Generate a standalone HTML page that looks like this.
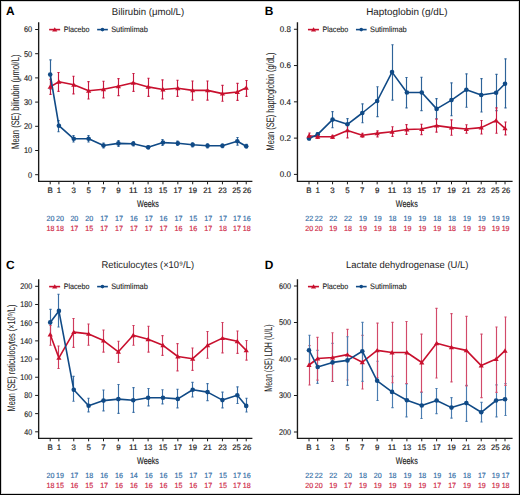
<!DOCTYPE html>
<html><head><meta charset="utf-8"><style>
html,body{margin:0;padding:0;background:#fff;}
body{width:520px;height:495px;overflow:hidden;position:relative;}
svg{position:absolute;left:0;top:0;}
text{font-family:"Liberation Sans",sans-serif;text-rendering:geometricPrecision;}
</style></head><body>
<svg width="520" height="495" viewBox="0 0 520 495">
<rect x="1.5" y="1.5" width="517" height="492" fill="#fff" stroke="#d6d6d6" stroke-width="1"/>
<rect x="0.5" y="0.5" width="519" height="494" fill="none" stroke="#000" stroke-width="1"/>
<text x="6.00" y="14.85" font-size="12" text-anchor="start" fill="#000" font-weight="bold" textLength="8.60" lengthAdjust="spacingAndGlyphs">A</text>
<text x="148.00" y="14.60" font-size="9.8" text-anchor="middle" fill="#222222" font-weight="normal" textLength="72.30" lengthAdjust="spacingAndGlyphs">Bilirubin (μmol/L)</text>
<path d="M38.65 22.20V181.30H252.40" fill="none" stroke="#1a1a1a" stroke-width="1.35"/>
<path d="M35.15 174.70H38.65" stroke="#1a1a1a" stroke-width="1"/>
<text x="32.15" y="177.60" font-size="8.3" text-anchor="end" fill="#222222" font-weight="normal" textLength="4.12" lengthAdjust="spacingAndGlyphs" stroke="#222222" stroke-width="0.15">0</text>
<path d="M35.15 150.50H38.65" stroke="#1a1a1a" stroke-width="1"/>
<text x="32.15" y="153.40" font-size="8.3" text-anchor="end" fill="#222222" font-weight="normal" textLength="8.24" lengthAdjust="spacingAndGlyphs" stroke="#222222" stroke-width="0.15">10</text>
<path d="M35.15 126.30H38.65" stroke="#1a1a1a" stroke-width="1"/>
<text x="32.15" y="129.20" font-size="8.3" text-anchor="end" fill="#222222" font-weight="normal" textLength="8.24" lengthAdjust="spacingAndGlyphs" stroke="#222222" stroke-width="0.15">20</text>
<path d="M35.15 102.10H38.65" stroke="#1a1a1a" stroke-width="1"/>
<text x="32.15" y="105.00" font-size="8.3" text-anchor="end" fill="#222222" font-weight="normal" textLength="8.24" lengthAdjust="spacingAndGlyphs" stroke="#222222" stroke-width="0.15">30</text>
<path d="M35.15 77.90H38.65" stroke="#1a1a1a" stroke-width="1"/>
<text x="32.15" y="80.80" font-size="8.3" text-anchor="end" fill="#222222" font-weight="normal" textLength="8.24" lengthAdjust="spacingAndGlyphs" stroke="#222222" stroke-width="0.15">40</text>
<path d="M35.15 53.70H38.65" stroke="#1a1a1a" stroke-width="1"/>
<text x="32.15" y="56.60" font-size="8.3" text-anchor="end" fill="#222222" font-weight="normal" textLength="8.24" lengthAdjust="spacingAndGlyphs" stroke="#222222" stroke-width="0.15">50</text>
<path d="M35.15 29.50H38.65" stroke="#1a1a1a" stroke-width="1"/>
<text x="32.15" y="32.40" font-size="8.3" text-anchor="end" fill="#222222" font-weight="normal" textLength="8.24" lengthAdjust="spacingAndGlyphs" stroke="#222222" stroke-width="0.15">60</text>
<path d="M50.20 181.30V184.30" stroke="#1a1a1a" stroke-width="1"/>
<text x="50.20" y="193.40" font-size="7.9" text-anchor="middle" fill="#222222" font-weight="normal" stroke="#222222" stroke-width="0.18">B</text>
<path d="M58.90 181.30V184.30" stroke="#1a1a1a" stroke-width="1"/>
<text x="58.90" y="193.40" font-size="7.9" text-anchor="middle" fill="#222222" font-weight="normal" stroke="#222222" stroke-width="0.18">1</text>
<path d="M73.77 181.30V184.30" stroke="#1a1a1a" stroke-width="1"/>
<text x="73.77" y="193.40" font-size="7.9" text-anchor="middle" fill="#222222" font-weight="normal" stroke="#222222" stroke-width="0.18">3</text>
<path d="M88.63 181.30V184.30" stroke="#1a1a1a" stroke-width="1"/>
<text x="88.63" y="193.40" font-size="7.9" text-anchor="middle" fill="#222222" font-weight="normal" stroke="#222222" stroke-width="0.18">5</text>
<path d="M103.50 181.30V184.30" stroke="#1a1a1a" stroke-width="1"/>
<text x="103.50" y="193.40" font-size="7.9" text-anchor="middle" fill="#222222" font-weight="normal" stroke="#222222" stroke-width="0.18">7</text>
<path d="M118.36 181.30V184.30" stroke="#1a1a1a" stroke-width="1"/>
<text x="118.36" y="193.40" font-size="7.9" text-anchor="middle" fill="#222222" font-weight="normal" stroke="#222222" stroke-width="0.18">9</text>
<path d="M133.23 181.30V184.30" stroke="#1a1a1a" stroke-width="1"/>
<text x="133.23" y="193.40" font-size="7.9" text-anchor="middle" fill="#222222" font-weight="normal" textLength="8.50" lengthAdjust="spacingAndGlyphs" stroke="#222222" stroke-width="0.18">11</text>
<path d="M148.10 181.30V184.30" stroke="#1a1a1a" stroke-width="1"/>
<text x="148.10" y="193.40" font-size="7.9" text-anchor="middle" fill="#222222" font-weight="normal" textLength="8.50" lengthAdjust="spacingAndGlyphs" stroke="#222222" stroke-width="0.18">13</text>
<path d="M162.96 181.30V184.30" stroke="#1a1a1a" stroke-width="1"/>
<text x="162.96" y="193.40" font-size="7.9" text-anchor="middle" fill="#222222" font-weight="normal" textLength="8.50" lengthAdjust="spacingAndGlyphs" stroke="#222222" stroke-width="0.18">15</text>
<path d="M177.83 181.30V184.30" stroke="#1a1a1a" stroke-width="1"/>
<text x="177.83" y="193.40" font-size="7.9" text-anchor="middle" fill="#222222" font-weight="normal" textLength="8.50" lengthAdjust="spacingAndGlyphs" stroke="#222222" stroke-width="0.18">17</text>
<path d="M192.69 181.30V184.30" stroke="#1a1a1a" stroke-width="1"/>
<text x="192.69" y="193.40" font-size="7.9" text-anchor="middle" fill="#222222" font-weight="normal" textLength="8.50" lengthAdjust="spacingAndGlyphs" stroke="#222222" stroke-width="0.18">19</text>
<path d="M207.56 181.30V184.30" stroke="#1a1a1a" stroke-width="1"/>
<text x="207.56" y="193.40" font-size="7.9" text-anchor="middle" fill="#222222" font-weight="normal" textLength="8.50" lengthAdjust="spacingAndGlyphs" stroke="#222222" stroke-width="0.18">21</text>
<path d="M222.43 181.30V184.30" stroke="#1a1a1a" stroke-width="1"/>
<text x="222.43" y="193.40" font-size="7.9" text-anchor="middle" fill="#222222" font-weight="normal" textLength="8.50" lengthAdjust="spacingAndGlyphs" stroke="#222222" stroke-width="0.18">23</text>
<path d="M237.29 181.30V184.30" stroke="#1a1a1a" stroke-width="1"/>
<text x="236.49" y="193.40" font-size="7.9" text-anchor="middle" fill="#222222" font-weight="normal" textLength="8.50" lengthAdjust="spacingAndGlyphs" stroke="#222222" stroke-width="0.18">25</text>
<path d="M246.22 181.30V184.30" stroke="#1a1a1a" stroke-width="1"/>
<text x="247.12" y="193.40" font-size="7.9" text-anchor="middle" fill="#222222" font-weight="normal" textLength="8.50" lengthAdjust="spacingAndGlyphs" stroke="#222222" stroke-width="0.18">26</text>
<text x="148.00" y="206.90" font-size="9.6" text-anchor="middle" fill="#222222" font-weight="normal" textLength="21.90" lengthAdjust="spacingAndGlyphs" stroke="#222222" stroke-width="0.15">Weeks</text>
<text x="50.50" y="221.00" font-size="7.5" text-anchor="middle" fill="#3670a8" font-weight="normal" textLength="7.90" lengthAdjust="spacingAndGlyphs" stroke="#3670a8" stroke-width="0.18">20</text>
<text x="50.50" y="230.60" font-size="7.5" text-anchor="middle" fill="#cf2a48" font-weight="normal" textLength="7.90" lengthAdjust="spacingAndGlyphs" stroke="#cf2a48" stroke-width="0.18">18</text>
<text x="60.00" y="221.00" font-size="7.5" text-anchor="middle" fill="#3670a8" font-weight="normal" textLength="7.90" lengthAdjust="spacingAndGlyphs" stroke="#3670a8" stroke-width="0.18">20</text>
<text x="60.00" y="230.60" font-size="7.5" text-anchor="middle" fill="#cf2a48" font-weight="normal" textLength="7.90" lengthAdjust="spacingAndGlyphs" stroke="#cf2a48" stroke-width="0.18">18</text>
<text x="74.37" y="221.00" font-size="7.5" text-anchor="middle" fill="#3670a8" font-weight="normal" textLength="7.90" lengthAdjust="spacingAndGlyphs" stroke="#3670a8" stroke-width="0.18">20</text>
<text x="74.37" y="230.60" font-size="7.5" text-anchor="middle" fill="#cf2a48" font-weight="normal" textLength="7.90" lengthAdjust="spacingAndGlyphs" stroke="#cf2a48" stroke-width="0.18">17</text>
<text x="89.23" y="221.00" font-size="7.5" text-anchor="middle" fill="#3670a8" font-weight="normal" textLength="7.90" lengthAdjust="spacingAndGlyphs" stroke="#3670a8" stroke-width="0.18">20</text>
<text x="89.23" y="230.60" font-size="7.5" text-anchor="middle" fill="#cf2a48" font-weight="normal" textLength="7.90" lengthAdjust="spacingAndGlyphs" stroke="#cf2a48" stroke-width="0.18">15</text>
<text x="104.10" y="221.00" font-size="7.5" text-anchor="middle" fill="#3670a8" font-weight="normal" textLength="7.90" lengthAdjust="spacingAndGlyphs" stroke="#3670a8" stroke-width="0.18">17</text>
<text x="104.10" y="230.60" font-size="7.5" text-anchor="middle" fill="#cf2a48" font-weight="normal" textLength="7.90" lengthAdjust="spacingAndGlyphs" stroke="#cf2a48" stroke-width="0.18">17</text>
<text x="118.96" y="221.00" font-size="7.5" text-anchor="middle" fill="#3670a8" font-weight="normal" textLength="7.90" lengthAdjust="spacingAndGlyphs" stroke="#3670a8" stroke-width="0.18">17</text>
<text x="118.96" y="230.60" font-size="7.5" text-anchor="middle" fill="#cf2a48" font-weight="normal" textLength="7.90" lengthAdjust="spacingAndGlyphs" stroke="#cf2a48" stroke-width="0.18">17</text>
<text x="133.83" y="221.00" font-size="7.5" text-anchor="middle" fill="#3670a8" font-weight="normal" textLength="7.90" lengthAdjust="spacingAndGlyphs" stroke="#3670a8" stroke-width="0.18">16</text>
<text x="133.83" y="230.60" font-size="7.5" text-anchor="middle" fill="#cf2a48" font-weight="normal" textLength="7.90" lengthAdjust="spacingAndGlyphs" stroke="#cf2a48" stroke-width="0.18">17</text>
<text x="148.70" y="221.00" font-size="7.5" text-anchor="middle" fill="#3670a8" font-weight="normal" textLength="7.90" lengthAdjust="spacingAndGlyphs" stroke="#3670a8" stroke-width="0.18">17</text>
<text x="148.70" y="230.60" font-size="7.5" text-anchor="middle" fill="#cf2a48" font-weight="normal" textLength="7.90" lengthAdjust="spacingAndGlyphs" stroke="#cf2a48" stroke-width="0.18">17</text>
<text x="163.56" y="221.00" font-size="7.5" text-anchor="middle" fill="#3670a8" font-weight="normal" textLength="7.90" lengthAdjust="spacingAndGlyphs" stroke="#3670a8" stroke-width="0.18">16</text>
<text x="163.56" y="230.60" font-size="7.5" text-anchor="middle" fill="#cf2a48" font-weight="normal" textLength="7.90" lengthAdjust="spacingAndGlyphs" stroke="#cf2a48" stroke-width="0.18">17</text>
<text x="178.43" y="221.00" font-size="7.5" text-anchor="middle" fill="#3670a8" font-weight="normal" textLength="7.90" lengthAdjust="spacingAndGlyphs" stroke="#3670a8" stroke-width="0.18">17</text>
<text x="178.43" y="230.60" font-size="7.5" text-anchor="middle" fill="#cf2a48" font-weight="normal" textLength="7.90" lengthAdjust="spacingAndGlyphs" stroke="#cf2a48" stroke-width="0.18">16</text>
<text x="193.29" y="221.00" font-size="7.5" text-anchor="middle" fill="#3670a8" font-weight="normal" textLength="7.90" lengthAdjust="spacingAndGlyphs" stroke="#3670a8" stroke-width="0.18">15</text>
<text x="193.29" y="230.60" font-size="7.5" text-anchor="middle" fill="#cf2a48" font-weight="normal" textLength="7.90" lengthAdjust="spacingAndGlyphs" stroke="#cf2a48" stroke-width="0.18">16</text>
<text x="208.16" y="221.00" font-size="7.5" text-anchor="middle" fill="#3670a8" font-weight="normal" textLength="7.90" lengthAdjust="spacingAndGlyphs" stroke="#3670a8" stroke-width="0.18">17</text>
<text x="208.16" y="230.60" font-size="7.5" text-anchor="middle" fill="#cf2a48" font-weight="normal" textLength="7.90" lengthAdjust="spacingAndGlyphs" stroke="#cf2a48" stroke-width="0.18">17</text>
<text x="223.03" y="221.00" font-size="7.5" text-anchor="middle" fill="#3670a8" font-weight="normal" textLength="7.90" lengthAdjust="spacingAndGlyphs" stroke="#3670a8" stroke-width="0.18">17</text>
<text x="223.03" y="230.60" font-size="7.5" text-anchor="middle" fill="#cf2a48" font-weight="normal" textLength="7.90" lengthAdjust="spacingAndGlyphs" stroke="#cf2a48" stroke-width="0.18">18</text>
<text x="236.99" y="221.00" font-size="7.5" text-anchor="middle" fill="#3670a8" font-weight="normal" textLength="7.90" lengthAdjust="spacingAndGlyphs" stroke="#3670a8" stroke-width="0.18">17</text>
<text x="236.99" y="230.60" font-size="7.5" text-anchor="middle" fill="#cf2a48" font-weight="normal" textLength="7.90" lengthAdjust="spacingAndGlyphs" stroke="#cf2a48" stroke-width="0.18">17</text>
<text x="246.82" y="221.00" font-size="7.5" text-anchor="middle" fill="#3670a8" font-weight="normal" textLength="7.90" lengthAdjust="spacingAndGlyphs" stroke="#3670a8" stroke-width="0.18">16</text>
<text x="246.82" y="230.60" font-size="7.5" text-anchor="middle" fill="#cf2a48" font-weight="normal" textLength="7.90" lengthAdjust="spacingAndGlyphs" stroke="#cf2a48" stroke-width="0.18">18</text>
<text x="0" y="0" font-size="10.9" fill="#222222" text-anchor="middle" textLength="94.30" lengthAdjust="spacingAndGlyphs" transform="translate(18.70 101.75) rotate(-90)">Mean (SE) bilirubin (μmol/L)</text>
<path d="M49.15 29.60H60.15" stroke="#c8102e" stroke-width="1.6"/>
<path d="M52.15 31.55L54.75 27.13L57.35 31.55Z" fill="#c8102e"/>
<text x="63.65" y="31.90" font-size="7.9" text-anchor="start" fill="#222222" font-weight="normal" textLength="25.90" lengthAdjust="spacingAndGlyphs" stroke="#222222" stroke-width="0.1">Placebo</text>
<path d="M97.15 29.60H107.85" stroke="#104a86" stroke-width="1.6"/>
<circle cx="102.45" cy="29.60" r="1.8" fill="#104a86"/>
<text x="111.15" y="31.90" font-size="7.9" text-anchor="start" fill="#222222" font-weight="normal" textLength="36.70" lengthAdjust="spacingAndGlyphs" stroke="#222222" stroke-width="0.1">Sutimlimab</text>
<path d="M50.50 59.90V89.10M49.40 59.90H51.60M49.40 89.10H51.60" stroke="#2e6399" stroke-width="1.15" fill="none"/>
<path d="M50.50 79.40V94.40M49.40 79.40H51.60M49.40 94.40H51.60" stroke="#c81a42" stroke-width="1.15" fill="none"/>
<path d="M58.50 120.60V131.70M57.40 120.60H59.60M57.40 131.70H59.60" stroke="#2e6399" stroke-width="1.15" fill="none"/>
<path d="M58.50 72.50V91.30M57.40 72.50H59.60M57.40 91.30H59.60" stroke="#c81a42" stroke-width="1.15" fill="none"/>
<path d="M73.50 135.50V142.00M72.40 135.50H74.60M72.40 142.00H74.60" stroke="#2e6399" stroke-width="1.15" fill="none"/>
<path d="M73.50 76.20V93.90M72.40 76.20H74.60M72.40 93.90H74.60" stroke="#c81a42" stroke-width="1.15" fill="none"/>
<path d="M88.50 135.50V142.00M87.40 135.50H89.60M87.40 142.00H89.60" stroke="#2e6399" stroke-width="1.15" fill="none"/>
<path d="M88.50 81.60V99.00M87.40 81.60H89.60M87.40 99.00H89.60" stroke="#c81a42" stroke-width="1.15" fill="none"/>
<path d="M103.50 143.00V148.00M102.40 143.00H104.60M102.40 148.00H104.60" stroke="#2e6399" stroke-width="1.15" fill="none"/>
<path d="M103.50 81.20V97.80M102.40 81.20H104.60M102.40 97.80H104.60" stroke="#c81a42" stroke-width="1.15" fill="none"/>
<path d="M118.50 140.50V146.30M117.40 140.50H119.60M117.40 146.30H119.60" stroke="#2e6399" stroke-width="1.15" fill="none"/>
<path d="M118.50 78.60V95.60M117.40 78.60H119.60M117.40 95.60H119.60" stroke="#c81a42" stroke-width="1.15" fill="none"/>
<path d="M133.50 141.50V146.00M132.40 141.50H134.60M132.40 146.00H134.60" stroke="#2e6399" stroke-width="1.15" fill="none"/>
<path d="M133.50 73.50V91.30M132.40 73.50H134.60M132.40 91.30H134.60" stroke="#c81a42" stroke-width="1.15" fill="none"/>
<path d="M148.50 145.80V148.80M147.40 145.80H149.60M147.40 148.80H149.60" stroke="#2e6399" stroke-width="1.15" fill="none"/>
<path d="M148.50 78.20V96.40M147.40 78.20H149.60M147.40 96.40H149.60" stroke="#c81a42" stroke-width="1.15" fill="none"/>
<path d="M162.50 139.50V145.50M161.40 139.50H163.60M161.40 145.50H163.60" stroke="#2e6399" stroke-width="1.15" fill="none"/>
<path d="M162.50 79.80V98.80M161.40 79.80H163.60M161.40 98.80H163.60" stroke="#c81a42" stroke-width="1.15" fill="none"/>
<path d="M177.50 141.00V145.40M176.40 141.00H178.60M176.40 145.40H178.60" stroke="#2e6399" stroke-width="1.15" fill="none"/>
<path d="M177.50 80.20V96.40M176.40 80.20H178.60M176.40 96.40H178.60" stroke="#c81a42" stroke-width="1.15" fill="none"/>
<path d="M192.50 142.80V146.80M191.40 142.80H193.60M191.40 146.80H193.60" stroke="#2e6399" stroke-width="1.15" fill="none"/>
<path d="M192.50 81.00V100.10M191.40 81.00H193.60M191.40 100.10H193.60" stroke="#c81a42" stroke-width="1.15" fill="none"/>
<path d="M207.50 143.90V147.90M206.40 143.90H208.60M206.40 147.90H208.60" stroke="#2e6399" stroke-width="1.15" fill="none"/>
<path d="M207.50 81.00V100.10M206.40 81.00H208.60M206.40 100.10H208.60" stroke="#c81a42" stroke-width="1.15" fill="none"/>
<path d="M222.50 144.00V147.60M221.40 144.00H223.60M221.40 147.60H223.60" stroke="#2e6399" stroke-width="1.15" fill="none"/>
<path d="M222.50 85.40V101.20M221.40 85.40H223.60M221.40 101.20H223.60" stroke="#c81a42" stroke-width="1.15" fill="none"/>
<path d="M237.50 137.50V145.10M236.40 137.50H238.60M236.40 145.10H238.60" stroke="#2e6399" stroke-width="1.15" fill="none"/>
<path d="M237.50 83.40V100.40M236.40 83.40H238.60M236.40 100.40H238.60" stroke="#c81a42" stroke-width="1.15" fill="none"/>
<path d="M246.50 144.40V148.00M245.40 144.40H247.60M245.40 148.00H247.60" stroke="#2e6399" stroke-width="1.15" fill="none"/>
<path d="M246.50 80.50V96.30M245.40 80.50H247.60M245.40 96.30H247.60" stroke="#c81a42" stroke-width="1.15" fill="none"/>
<path d="M50.20 86.90 L58.90 81.80 L73.77 84.80 L88.63 90.70 L103.50 89.30 L118.36 86.30 L133.23 82.80 L148.10 86.90 L162.96 89.50 L177.83 88.30 L192.69 90.40 L207.56 90.40 L222.43 93.60 L237.29 92.00 L246.22 87.80" fill="none" stroke="#c8102e" stroke-width="1.6" stroke-linejoin="round"/>
<path d="M50.20 74.50 L58.90 125.70 L73.77 138.80 L88.63 138.80 L103.50 145.50 L118.36 143.40 L133.23 143.80 L148.10 147.30 L162.96 142.60 L177.83 143.20 L192.69 144.70 L207.56 145.80 L222.43 145.80 L237.29 141.30 L246.22 146.20" fill="none" stroke="#104a86" stroke-width="1.6" stroke-linejoin="round"/>
<circle cx="50.20" cy="74.50" r="2.3" fill="#104a86"/>
<circle cx="58.90" cy="125.70" r="2.3" fill="#104a86"/>
<circle cx="73.77" cy="138.80" r="2.3" fill="#104a86"/>
<circle cx="88.63" cy="138.80" r="2.3" fill="#104a86"/>
<circle cx="103.50" cy="145.50" r="2.3" fill="#104a86"/>
<circle cx="118.36" cy="143.40" r="2.3" fill="#104a86"/>
<circle cx="133.23" cy="143.80" r="2.3" fill="#104a86"/>
<circle cx="148.10" cy="147.30" r="2.3" fill="#104a86"/>
<circle cx="162.96" cy="142.60" r="2.3" fill="#104a86"/>
<circle cx="177.83" cy="143.20" r="2.3" fill="#104a86"/>
<circle cx="192.69" cy="144.70" r="2.3" fill="#104a86"/>
<circle cx="207.56" cy="145.80" r="2.3" fill="#104a86"/>
<circle cx="222.43" cy="145.80" r="2.3" fill="#104a86"/>
<circle cx="237.29" cy="141.30" r="2.3" fill="#104a86"/>
<circle cx="246.22" cy="146.20" r="2.3" fill="#104a86"/>
<path d="M47.60 88.85L50.20 84.43L52.80 88.85Z" fill="#c8102e"/>
<path d="M56.30 83.75L58.90 79.33L61.50 83.75Z" fill="#c8102e"/>
<path d="M71.17 86.75L73.77 82.33L76.37 86.75Z" fill="#c8102e"/>
<path d="M86.03 92.65L88.63 88.23L91.23 92.65Z" fill="#c8102e"/>
<path d="M100.90 91.25L103.50 86.83L106.10 91.25Z" fill="#c8102e"/>
<path d="M115.76 88.25L118.36 83.83L120.96 88.25Z" fill="#c8102e"/>
<path d="M130.63 84.75L133.23 80.33L135.83 84.75Z" fill="#c8102e"/>
<path d="M145.50 88.85L148.10 84.43L150.70 88.85Z" fill="#c8102e"/>
<path d="M160.36 91.45L162.96 87.03L165.56 91.45Z" fill="#c8102e"/>
<path d="M175.23 90.25L177.83 85.83L180.43 90.25Z" fill="#c8102e"/>
<path d="M190.09 92.35L192.69 87.93L195.29 92.35Z" fill="#c8102e"/>
<path d="M204.96 92.35L207.56 87.93L210.16 92.35Z" fill="#c8102e"/>
<path d="M219.83 95.55L222.43 91.13L225.03 95.55Z" fill="#c8102e"/>
<path d="M234.69 93.95L237.29 89.53L239.89 93.95Z" fill="#c8102e"/>
<path d="M243.62 89.75L246.22 85.33L248.82 89.75Z" fill="#c8102e"/>
<text x="264.80" y="14.85" font-size="12" text-anchor="start" fill="#000" font-weight="bold" textLength="8.60" lengthAdjust="spacingAndGlyphs">B</text>
<text x="406.80" y="14.60" font-size="9.8" text-anchor="middle" fill="#222222" font-weight="normal" textLength="81.30" lengthAdjust="spacingAndGlyphs">Haptoglobin (g/dL)</text>
<path d="M297.45 22.20V181.30H512.60" fill="none" stroke="#1a1a1a" stroke-width="1.35"/>
<path d="M293.95 174.40H297.45" stroke="#1a1a1a" stroke-width="1"/>
<text x="290.95" y="177.30" font-size="8.3" text-anchor="end" fill="#222222" font-weight="normal" textLength="11.10" lengthAdjust="spacingAndGlyphs" stroke="#222222" stroke-width="0.15">0.0</text>
<path d="M293.95 138.12H297.45" stroke="#1a1a1a" stroke-width="1"/>
<text x="290.95" y="141.02" font-size="8.3" text-anchor="end" fill="#222222" font-weight="normal" textLength="11.10" lengthAdjust="spacingAndGlyphs" stroke="#222222" stroke-width="0.15">0.2</text>
<path d="M293.95 101.84H297.45" stroke="#1a1a1a" stroke-width="1"/>
<text x="290.95" y="104.74" font-size="8.3" text-anchor="end" fill="#222222" font-weight="normal" textLength="11.10" lengthAdjust="spacingAndGlyphs" stroke="#222222" stroke-width="0.15">0.4</text>
<path d="M293.95 65.56H297.45" stroke="#1a1a1a" stroke-width="1"/>
<text x="290.95" y="68.46" font-size="8.3" text-anchor="end" fill="#222222" font-weight="normal" textLength="11.10" lengthAdjust="spacingAndGlyphs" stroke="#222222" stroke-width="0.15">0.6</text>
<path d="M293.95 29.28H297.45" stroke="#1a1a1a" stroke-width="1"/>
<text x="290.95" y="32.18" font-size="8.3" text-anchor="end" fill="#222222" font-weight="normal" textLength="11.10" lengthAdjust="spacingAndGlyphs" stroke="#222222" stroke-width="0.15">0.8</text>
<path d="M309.00 181.30V184.30" stroke="#1a1a1a" stroke-width="1"/>
<text x="309.00" y="193.40" font-size="7.9" text-anchor="middle" fill="#222222" font-weight="normal" stroke="#222222" stroke-width="0.18">B</text>
<path d="M317.70 181.30V184.30" stroke="#1a1a1a" stroke-width="1"/>
<text x="317.70" y="193.40" font-size="7.9" text-anchor="middle" fill="#222222" font-weight="normal" stroke="#222222" stroke-width="0.18">1</text>
<path d="M332.57 181.30V184.30" stroke="#1a1a1a" stroke-width="1"/>
<text x="332.57" y="193.40" font-size="7.9" text-anchor="middle" fill="#222222" font-weight="normal" stroke="#222222" stroke-width="0.18">3</text>
<path d="M347.43 181.30V184.30" stroke="#1a1a1a" stroke-width="1"/>
<text x="347.43" y="193.40" font-size="7.9" text-anchor="middle" fill="#222222" font-weight="normal" stroke="#222222" stroke-width="0.18">5</text>
<path d="M362.30 181.30V184.30" stroke="#1a1a1a" stroke-width="1"/>
<text x="362.30" y="193.40" font-size="7.9" text-anchor="middle" fill="#222222" font-weight="normal" stroke="#222222" stroke-width="0.18">7</text>
<path d="M377.16 181.30V184.30" stroke="#1a1a1a" stroke-width="1"/>
<text x="377.16" y="193.40" font-size="7.9" text-anchor="middle" fill="#222222" font-weight="normal" stroke="#222222" stroke-width="0.18">9</text>
<path d="M392.03 181.30V184.30" stroke="#1a1a1a" stroke-width="1"/>
<text x="392.03" y="193.40" font-size="7.9" text-anchor="middle" fill="#222222" font-weight="normal" textLength="8.50" lengthAdjust="spacingAndGlyphs" stroke="#222222" stroke-width="0.18">11</text>
<path d="M406.90 181.30V184.30" stroke="#1a1a1a" stroke-width="1"/>
<text x="406.90" y="193.40" font-size="7.9" text-anchor="middle" fill="#222222" font-weight="normal" textLength="8.50" lengthAdjust="spacingAndGlyphs" stroke="#222222" stroke-width="0.18">13</text>
<path d="M421.76 181.30V184.30" stroke="#1a1a1a" stroke-width="1"/>
<text x="421.76" y="193.40" font-size="7.9" text-anchor="middle" fill="#222222" font-weight="normal" textLength="8.50" lengthAdjust="spacingAndGlyphs" stroke="#222222" stroke-width="0.18">15</text>
<path d="M436.63 181.30V184.30" stroke="#1a1a1a" stroke-width="1"/>
<text x="436.63" y="193.40" font-size="7.9" text-anchor="middle" fill="#222222" font-weight="normal" textLength="8.50" lengthAdjust="spacingAndGlyphs" stroke="#222222" stroke-width="0.18">17</text>
<path d="M451.49 181.30V184.30" stroke="#1a1a1a" stroke-width="1"/>
<text x="451.49" y="193.40" font-size="7.9" text-anchor="middle" fill="#222222" font-weight="normal" textLength="8.50" lengthAdjust="spacingAndGlyphs" stroke="#222222" stroke-width="0.18">19</text>
<path d="M466.36 181.30V184.30" stroke="#1a1a1a" stroke-width="1"/>
<text x="466.36" y="193.40" font-size="7.9" text-anchor="middle" fill="#222222" font-weight="normal" textLength="8.50" lengthAdjust="spacingAndGlyphs" stroke="#222222" stroke-width="0.18">21</text>
<path d="M481.23 181.30V184.30" stroke="#1a1a1a" stroke-width="1"/>
<text x="481.23" y="193.40" font-size="7.9" text-anchor="middle" fill="#222222" font-weight="normal" textLength="8.50" lengthAdjust="spacingAndGlyphs" stroke="#222222" stroke-width="0.18">23</text>
<path d="M496.09 181.30V184.30" stroke="#1a1a1a" stroke-width="1"/>
<text x="495.29" y="193.40" font-size="7.9" text-anchor="middle" fill="#222222" font-weight="normal" textLength="8.50" lengthAdjust="spacingAndGlyphs" stroke="#222222" stroke-width="0.18">25</text>
<path d="M505.02 181.30V184.30" stroke="#1a1a1a" stroke-width="1"/>
<text x="505.92" y="193.40" font-size="7.9" text-anchor="middle" fill="#222222" font-weight="normal" textLength="8.50" lengthAdjust="spacingAndGlyphs" stroke="#222222" stroke-width="0.18">26</text>
<text x="406.80" y="206.90" font-size="9.6" text-anchor="middle" fill="#222222" font-weight="normal" textLength="21.90" lengthAdjust="spacingAndGlyphs" stroke="#222222" stroke-width="0.15">Weeks</text>
<text x="309.30" y="221.00" font-size="7.5" text-anchor="middle" fill="#3670a8" font-weight="normal" textLength="7.90" lengthAdjust="spacingAndGlyphs" stroke="#3670a8" stroke-width="0.18">22</text>
<text x="309.30" y="230.60" font-size="7.5" text-anchor="middle" fill="#cf2a48" font-weight="normal" textLength="7.90" lengthAdjust="spacingAndGlyphs" stroke="#cf2a48" stroke-width="0.18">20</text>
<text x="318.80" y="221.00" font-size="7.5" text-anchor="middle" fill="#3670a8" font-weight="normal" textLength="7.90" lengthAdjust="spacingAndGlyphs" stroke="#3670a8" stroke-width="0.18">22</text>
<text x="318.80" y="230.60" font-size="7.5" text-anchor="middle" fill="#cf2a48" font-weight="normal" textLength="7.90" lengthAdjust="spacingAndGlyphs" stroke="#cf2a48" stroke-width="0.18">20</text>
<text x="333.17" y="221.00" font-size="7.5" text-anchor="middle" fill="#3670a8" font-weight="normal" textLength="7.90" lengthAdjust="spacingAndGlyphs" stroke="#3670a8" stroke-width="0.18">22</text>
<text x="333.17" y="230.60" font-size="7.5" text-anchor="middle" fill="#cf2a48" font-weight="normal" textLength="7.90" lengthAdjust="spacingAndGlyphs" stroke="#cf2a48" stroke-width="0.18">19</text>
<text x="348.03" y="221.00" font-size="7.5" text-anchor="middle" fill="#3670a8" font-weight="normal" textLength="7.90" lengthAdjust="spacingAndGlyphs" stroke="#3670a8" stroke-width="0.18">22</text>
<text x="348.03" y="230.60" font-size="7.5" text-anchor="middle" fill="#cf2a48" font-weight="normal" textLength="7.90" lengthAdjust="spacingAndGlyphs" stroke="#cf2a48" stroke-width="0.18">18</text>
<text x="362.90" y="221.00" font-size="7.5" text-anchor="middle" fill="#3670a8" font-weight="normal" textLength="7.90" lengthAdjust="spacingAndGlyphs" stroke="#3670a8" stroke-width="0.18">19</text>
<text x="362.90" y="230.60" font-size="7.5" text-anchor="middle" fill="#cf2a48" font-weight="normal" textLength="7.90" lengthAdjust="spacingAndGlyphs" stroke="#cf2a48" stroke-width="0.18">19</text>
<text x="377.76" y="221.00" font-size="7.5" text-anchor="middle" fill="#3670a8" font-weight="normal" textLength="7.90" lengthAdjust="spacingAndGlyphs" stroke="#3670a8" stroke-width="0.18">19</text>
<text x="377.76" y="230.60" font-size="7.5" text-anchor="middle" fill="#cf2a48" font-weight="normal" textLength="7.90" lengthAdjust="spacingAndGlyphs" stroke="#cf2a48" stroke-width="0.18">19</text>
<text x="392.63" y="221.00" font-size="7.5" text-anchor="middle" fill="#3670a8" font-weight="normal" textLength="7.90" lengthAdjust="spacingAndGlyphs" stroke="#3670a8" stroke-width="0.18">18</text>
<text x="392.63" y="230.60" font-size="7.5" text-anchor="middle" fill="#cf2a48" font-weight="normal" textLength="7.90" lengthAdjust="spacingAndGlyphs" stroke="#cf2a48" stroke-width="0.18">18</text>
<text x="407.50" y="221.00" font-size="7.5" text-anchor="middle" fill="#3670a8" font-weight="normal" textLength="7.90" lengthAdjust="spacingAndGlyphs" stroke="#3670a8" stroke-width="0.18">19</text>
<text x="407.50" y="230.60" font-size="7.5" text-anchor="middle" fill="#cf2a48" font-weight="normal" textLength="7.90" lengthAdjust="spacingAndGlyphs" stroke="#cf2a48" stroke-width="0.18">19</text>
<text x="422.36" y="221.00" font-size="7.5" text-anchor="middle" fill="#3670a8" font-weight="normal" textLength="7.90" lengthAdjust="spacingAndGlyphs" stroke="#3670a8" stroke-width="0.18">19</text>
<text x="422.36" y="230.60" font-size="7.5" text-anchor="middle" fill="#cf2a48" font-weight="normal" textLength="7.90" lengthAdjust="spacingAndGlyphs" stroke="#cf2a48" stroke-width="0.18">19</text>
<text x="437.23" y="221.00" font-size="7.5" text-anchor="middle" fill="#3670a8" font-weight="normal" textLength="7.90" lengthAdjust="spacingAndGlyphs" stroke="#3670a8" stroke-width="0.18">18</text>
<text x="437.23" y="230.60" font-size="7.5" text-anchor="middle" fill="#cf2a48" font-weight="normal" textLength="7.90" lengthAdjust="spacingAndGlyphs" stroke="#cf2a48" stroke-width="0.18">19</text>
<text x="452.09" y="221.00" font-size="7.5" text-anchor="middle" fill="#3670a8" font-weight="normal" textLength="7.90" lengthAdjust="spacingAndGlyphs" stroke="#3670a8" stroke-width="0.18">18</text>
<text x="452.09" y="230.60" font-size="7.5" text-anchor="middle" fill="#cf2a48" font-weight="normal" textLength="7.90" lengthAdjust="spacingAndGlyphs" stroke="#cf2a48" stroke-width="0.18">18</text>
<text x="466.96" y="221.00" font-size="7.5" text-anchor="middle" fill="#3670a8" font-weight="normal" textLength="7.90" lengthAdjust="spacingAndGlyphs" stroke="#3670a8" stroke-width="0.18">19</text>
<text x="466.96" y="230.60" font-size="7.5" text-anchor="middle" fill="#cf2a48" font-weight="normal" textLength="7.90" lengthAdjust="spacingAndGlyphs" stroke="#cf2a48" stroke-width="0.18">19</text>
<text x="481.83" y="221.00" font-size="7.5" text-anchor="middle" fill="#3670a8" font-weight="normal" textLength="7.90" lengthAdjust="spacingAndGlyphs" stroke="#3670a8" stroke-width="0.18">19</text>
<text x="481.83" y="230.60" font-size="7.5" text-anchor="middle" fill="#cf2a48" font-weight="normal" textLength="7.90" lengthAdjust="spacingAndGlyphs" stroke="#cf2a48" stroke-width="0.18">19</text>
<text x="495.79" y="221.00" font-size="7.5" text-anchor="middle" fill="#3670a8" font-weight="normal" textLength="7.90" lengthAdjust="spacingAndGlyphs" stroke="#3670a8" stroke-width="0.18">19</text>
<text x="495.79" y="230.60" font-size="7.5" text-anchor="middle" fill="#cf2a48" font-weight="normal" textLength="7.90" lengthAdjust="spacingAndGlyphs" stroke="#cf2a48" stroke-width="0.18">19</text>
<text x="505.62" y="221.00" font-size="7.5" text-anchor="middle" fill="#3670a8" font-weight="normal" textLength="7.90" lengthAdjust="spacingAndGlyphs" stroke="#3670a8" stroke-width="0.18">19</text>
<text x="505.62" y="230.60" font-size="7.5" text-anchor="middle" fill="#cf2a48" font-weight="normal" textLength="7.90" lengthAdjust="spacingAndGlyphs" stroke="#cf2a48" stroke-width="0.18">19</text>
<text x="0" y="0" font-size="10.9" fill="#222222" text-anchor="middle" textLength="97.80" lengthAdjust="spacingAndGlyphs" transform="translate(273.60 101.50) rotate(-90)">Mean (SE) haptoglobin (g/dL)</text>
<path d="M307.95 29.60H318.95" stroke="#c8102e" stroke-width="1.6"/>
<path d="M310.95 31.55L313.55 27.13L316.15 31.55Z" fill="#c8102e"/>
<text x="322.45" y="31.90" font-size="7.9" text-anchor="start" fill="#222222" font-weight="normal" textLength="25.90" lengthAdjust="spacingAndGlyphs" stroke="#222222" stroke-width="0.1">Placebo</text>
<path d="M355.95 29.60H366.65" stroke="#104a86" stroke-width="1.6"/>
<circle cx="361.25" cy="29.60" r="1.8" fill="#104a86"/>
<text x="369.95" y="31.90" font-size="7.9" text-anchor="start" fill="#222222" font-weight="normal" textLength="36.70" lengthAdjust="spacingAndGlyphs" stroke="#222222" stroke-width="0.1">Sutimlimab</text>
<path d="M309.50 136.90V139.90M308.40 136.90H310.60M308.40 139.90H310.60" stroke="#2e6399" stroke-width="1.15" fill="none"/>
<path d="M309.50 133.00V138.50M308.40 133.00H310.60M308.40 138.50H310.60" stroke="#c81a42" stroke-width="1.15" fill="none"/>
<path d="M317.50 132.90V135.90M316.40 132.90H318.60M316.40 135.90H318.60" stroke="#2e6399" stroke-width="1.15" fill="none"/>
<path d="M317.50 135.30V138.30M316.40 135.30H318.60M316.40 138.30H318.60" stroke="#c81a42" stroke-width="1.15" fill="none"/>
<path d="M332.50 111.60V127.70M331.40 111.60H333.60M331.40 127.70H333.60" stroke="#2e6399" stroke-width="1.15" fill="none"/>
<path d="M332.50 135.30V138.30M331.40 135.30H333.60M331.40 138.30H333.60" stroke="#c81a42" stroke-width="1.15" fill="none"/>
<path d="M347.50 118.60V130.00M346.40 118.60H348.60M346.40 130.00H348.60" stroke="#2e6399" stroke-width="1.15" fill="none"/>
<path d="M347.50 123.70V137.80M346.40 123.70H348.60M346.40 137.80H348.60" stroke="#c81a42" stroke-width="1.15" fill="none"/>
<path d="M362.50 103.90V122.70M361.40 103.90H363.60M361.40 122.70H363.60" stroke="#2e6399" stroke-width="1.15" fill="none"/>
<path d="M362.50 133.20V137.20M361.40 133.20H363.60M361.40 137.20H363.60" stroke="#c81a42" stroke-width="1.15" fill="none"/>
<path d="M377.50 86.70V116.60M376.40 86.70H378.60M376.40 116.60H378.60" stroke="#2e6399" stroke-width="1.15" fill="none"/>
<path d="M377.50 130.80V136.80M376.40 130.80H378.60M376.40 136.80H378.60" stroke="#c81a42" stroke-width="1.15" fill="none"/>
<path d="M392.50 44.70V100.10M391.40 44.70H393.60M391.40 100.10H393.60" stroke="#2e6399" stroke-width="1.15" fill="none"/>
<path d="M392.50 126.70V136.40M391.40 126.70H393.60M391.40 136.40H393.60" stroke="#c81a42" stroke-width="1.15" fill="none"/>
<path d="M406.50 77.50V107.80M405.40 77.50H407.60M405.40 107.80H407.60" stroke="#2e6399" stroke-width="1.15" fill="none"/>
<path d="M406.50 124.60V134.40M405.40 124.60H407.60M405.40 134.40H407.60" stroke="#c81a42" stroke-width="1.15" fill="none"/>
<path d="M421.50 77.20V110.60M420.40 77.20H422.60M420.40 110.60H422.60" stroke="#2e6399" stroke-width="1.15" fill="none"/>
<path d="M421.50 124.20V134.60M420.40 124.20H422.60M420.40 134.60H422.60" stroke="#c81a42" stroke-width="1.15" fill="none"/>
<path d="M436.50 98.60V118.70M435.40 98.60H437.60M435.40 118.70H437.60" stroke="#2e6399" stroke-width="1.15" fill="none"/>
<path d="M436.50 119.10V132.10M435.40 119.10H437.60M435.40 132.10H437.60" stroke="#c81a42" stroke-width="1.15" fill="none"/>
<path d="M451.50 82.90V115.70M450.40 82.90H452.60M450.40 115.70H452.60" stroke="#2e6399" stroke-width="1.15" fill="none"/>
<path d="M451.50 119.90V135.20M450.40 119.90H452.60M450.40 135.20H452.60" stroke="#c81a42" stroke-width="1.15" fill="none"/>
<path d="M466.50 73.80V107.20M465.40 73.80H467.60M465.40 107.20H467.60" stroke="#2e6399" stroke-width="1.15" fill="none"/>
<path d="M466.50 124.70V133.20M465.40 124.70H467.60M465.40 133.20H467.60" stroke="#c81a42" stroke-width="1.15" fill="none"/>
<path d="M481.50 78.60V112.00M480.40 78.60H482.60M480.40 112.00H482.60" stroke="#2e6399" stroke-width="1.15" fill="none"/>
<path d="M481.50 120.50V134.00M480.40 120.50H482.60M480.40 134.00H482.60" stroke="#c81a42" stroke-width="1.15" fill="none"/>
<path d="M496.50 74.40V110.60M495.40 74.40H497.60M495.40 110.60H497.60" stroke="#2e6399" stroke-width="1.15" fill="none"/>
<path d="M496.50 107.80V133.20M495.40 107.80H497.60M495.40 133.20H497.60" stroke="#c81a42" stroke-width="1.15" fill="none"/>
<path d="M505.50 58.80V107.80M504.40 58.80H506.60M504.40 107.80H506.60" stroke="#2e6399" stroke-width="1.15" fill="none"/>
<path d="M505.50 122.00V134.80M504.40 122.00H506.60M504.40 134.80H506.60" stroke="#c81a42" stroke-width="1.15" fill="none"/>
<path d="M309.00 135.80 L317.70 136.80 L332.57 136.80 L347.43 130.40 L362.30 135.20 L377.16 133.40 L392.03 131.80 L406.90 129.50 L421.76 129.00 L436.63 125.60 L451.49 127.60 L466.36 129.00 L481.23 127.60 L496.09 120.50 L505.02 128.40" fill="none" stroke="#c8102e" stroke-width="1.6" stroke-linejoin="round"/>
<path d="M309.00 138.40 L317.70 134.40 L332.57 119.60 L347.43 124.30 L362.30 113.00 L377.16 101.00 L392.03 72.10 L406.90 92.50 L421.76 92.50 L436.63 108.90 L451.49 100.10 L466.36 89.70 L481.23 95.00 L496.09 92.80 L505.02 83.70" fill="none" stroke="#104a86" stroke-width="1.6" stroke-linejoin="round"/>
<circle cx="309.00" cy="138.40" r="2.3" fill="#104a86"/>
<circle cx="317.70" cy="134.40" r="2.3" fill="#104a86"/>
<circle cx="332.57" cy="119.60" r="2.3" fill="#104a86"/>
<circle cx="347.43" cy="124.30" r="2.3" fill="#104a86"/>
<circle cx="362.30" cy="113.00" r="2.3" fill="#104a86"/>
<circle cx="377.16" cy="101.00" r="2.3" fill="#104a86"/>
<circle cx="392.03" cy="72.10" r="2.3" fill="#104a86"/>
<circle cx="406.90" cy="92.50" r="2.3" fill="#104a86"/>
<circle cx="421.76" cy="92.50" r="2.3" fill="#104a86"/>
<circle cx="436.63" cy="108.90" r="2.3" fill="#104a86"/>
<circle cx="451.49" cy="100.10" r="2.3" fill="#104a86"/>
<circle cx="466.36" cy="89.70" r="2.3" fill="#104a86"/>
<circle cx="481.23" cy="95.00" r="2.3" fill="#104a86"/>
<circle cx="496.09" cy="92.80" r="2.3" fill="#104a86"/>
<circle cx="505.02" cy="83.70" r="2.3" fill="#104a86"/>
<path d="M306.40 137.75L309.00 133.33L311.60 137.75Z" fill="#c8102e"/>
<path d="M315.10 138.75L317.70 134.33L320.30 138.75Z" fill="#c8102e"/>
<path d="M329.97 138.75L332.57 134.33L335.17 138.75Z" fill="#c8102e"/>
<path d="M344.83 132.35L347.43 127.93L350.03 132.35Z" fill="#c8102e"/>
<path d="M359.70 137.15L362.30 132.73L364.90 137.15Z" fill="#c8102e"/>
<path d="M374.56 135.35L377.16 130.93L379.76 135.35Z" fill="#c8102e"/>
<path d="M389.43 133.75L392.03 129.33L394.63 133.75Z" fill="#c8102e"/>
<path d="M404.30 131.45L406.90 127.03L409.50 131.45Z" fill="#c8102e"/>
<path d="M419.16 130.95L421.76 126.53L424.36 130.95Z" fill="#c8102e"/>
<path d="M434.03 127.55L436.63 123.13L439.23 127.55Z" fill="#c8102e"/>
<path d="M448.89 129.55L451.49 125.13L454.09 129.55Z" fill="#c8102e"/>
<path d="M463.76 130.95L466.36 126.53L468.96 130.95Z" fill="#c8102e"/>
<path d="M478.63 129.55L481.23 125.13L483.83 129.55Z" fill="#c8102e"/>
<path d="M493.49 122.45L496.09 118.03L498.69 122.45Z" fill="#c8102e"/>
<path d="M502.42 130.35L505.02 125.93L507.62 130.35Z" fill="#c8102e"/>
<text x="6.00" y="268.55" font-size="12" text-anchor="start" fill="#000" font-weight="bold" textLength="8.60" lengthAdjust="spacingAndGlyphs">C</text>
<text x="147.80" y="268.30" font-size="9.8" text-anchor="middle" fill="#222222" font-weight="normal" textLength="92.50" lengthAdjust="spacingAndGlyphs">Reticulocytes (×10⁹/L)</text>
<path d="M38.65 279.20V438.30H252.40" fill="none" stroke="#1a1a1a" stroke-width="1.35"/>
<path d="M35.15 431.80H38.65" stroke="#1a1a1a" stroke-width="1"/>
<text x="32.15" y="434.70" font-size="8.3" text-anchor="end" fill="#222222" font-weight="normal" textLength="7.90" lengthAdjust="spacingAndGlyphs" stroke="#222222" stroke-width="0.15">40</text>
<path d="M35.15 413.62H38.65" stroke="#1a1a1a" stroke-width="1"/>
<text x="32.15" y="416.52" font-size="8.3" text-anchor="end" fill="#222222" font-weight="normal" textLength="7.90" lengthAdjust="spacingAndGlyphs" stroke="#222222" stroke-width="0.15">60</text>
<path d="M35.15 395.43H38.65" stroke="#1a1a1a" stroke-width="1"/>
<text x="32.15" y="398.33" font-size="8.3" text-anchor="end" fill="#222222" font-weight="normal" textLength="7.90" lengthAdjust="spacingAndGlyphs" stroke="#222222" stroke-width="0.15">80</text>
<path d="M35.15 377.24H38.65" stroke="#1a1a1a" stroke-width="1"/>
<text x="32.15" y="380.14" font-size="8.3" text-anchor="end" fill="#222222" font-weight="normal" textLength="11.85" lengthAdjust="spacingAndGlyphs" stroke="#222222" stroke-width="0.15">100</text>
<path d="M35.15 359.05H38.65" stroke="#1a1a1a" stroke-width="1"/>
<text x="32.15" y="361.95" font-size="8.3" text-anchor="end" fill="#222222" font-weight="normal" textLength="11.85" lengthAdjust="spacingAndGlyphs" stroke="#222222" stroke-width="0.15">120</text>
<path d="M35.15 340.86H38.65" stroke="#1a1a1a" stroke-width="1"/>
<text x="32.15" y="343.76" font-size="8.3" text-anchor="end" fill="#222222" font-weight="normal" textLength="11.85" lengthAdjust="spacingAndGlyphs" stroke="#222222" stroke-width="0.15">140</text>
<path d="M35.15 322.68H38.65" stroke="#1a1a1a" stroke-width="1"/>
<text x="32.15" y="325.58" font-size="8.3" text-anchor="end" fill="#222222" font-weight="normal" textLength="11.85" lengthAdjust="spacingAndGlyphs" stroke="#222222" stroke-width="0.15">160</text>
<path d="M35.15 304.49H38.65" stroke="#1a1a1a" stroke-width="1"/>
<text x="32.15" y="307.39" font-size="8.3" text-anchor="end" fill="#222222" font-weight="normal" textLength="11.85" lengthAdjust="spacingAndGlyphs" stroke="#222222" stroke-width="0.15">180</text>
<path d="M35.15 286.30H38.65" stroke="#1a1a1a" stroke-width="1"/>
<text x="32.15" y="289.20" font-size="8.3" text-anchor="end" fill="#222222" font-weight="normal" textLength="11.85" lengthAdjust="spacingAndGlyphs" stroke="#222222" stroke-width="0.15">200</text>
<path d="M50.20 438.30V441.30" stroke="#1a1a1a" stroke-width="1"/>
<text x="50.20" y="450.40" font-size="7.9" text-anchor="middle" fill="#222222" font-weight="normal" stroke="#222222" stroke-width="0.18">B</text>
<path d="M58.90 438.30V441.30" stroke="#1a1a1a" stroke-width="1"/>
<text x="58.90" y="450.40" font-size="7.9" text-anchor="middle" fill="#222222" font-weight="normal" stroke="#222222" stroke-width="0.18">1</text>
<path d="M73.77 438.30V441.30" stroke="#1a1a1a" stroke-width="1"/>
<text x="73.77" y="450.40" font-size="7.9" text-anchor="middle" fill="#222222" font-weight="normal" stroke="#222222" stroke-width="0.18">3</text>
<path d="M88.63 438.30V441.30" stroke="#1a1a1a" stroke-width="1"/>
<text x="88.63" y="450.40" font-size="7.9" text-anchor="middle" fill="#222222" font-weight="normal" stroke="#222222" stroke-width="0.18">5</text>
<path d="M103.50 438.30V441.30" stroke="#1a1a1a" stroke-width="1"/>
<text x="103.50" y="450.40" font-size="7.9" text-anchor="middle" fill="#222222" font-weight="normal" stroke="#222222" stroke-width="0.18">7</text>
<path d="M118.36 438.30V441.30" stroke="#1a1a1a" stroke-width="1"/>
<text x="118.36" y="450.40" font-size="7.9" text-anchor="middle" fill="#222222" font-weight="normal" stroke="#222222" stroke-width="0.18">9</text>
<path d="M133.23 438.30V441.30" stroke="#1a1a1a" stroke-width="1"/>
<text x="133.23" y="450.40" font-size="7.9" text-anchor="middle" fill="#222222" font-weight="normal" textLength="8.50" lengthAdjust="spacingAndGlyphs" stroke="#222222" stroke-width="0.18">11</text>
<path d="M148.10 438.30V441.30" stroke="#1a1a1a" stroke-width="1"/>
<text x="148.10" y="450.40" font-size="7.9" text-anchor="middle" fill="#222222" font-weight="normal" textLength="8.50" lengthAdjust="spacingAndGlyphs" stroke="#222222" stroke-width="0.18">13</text>
<path d="M162.96 438.30V441.30" stroke="#1a1a1a" stroke-width="1"/>
<text x="162.96" y="450.40" font-size="7.9" text-anchor="middle" fill="#222222" font-weight="normal" textLength="8.50" lengthAdjust="spacingAndGlyphs" stroke="#222222" stroke-width="0.18">15</text>
<path d="M177.83 438.30V441.30" stroke="#1a1a1a" stroke-width="1"/>
<text x="177.83" y="450.40" font-size="7.9" text-anchor="middle" fill="#222222" font-weight="normal" textLength="8.50" lengthAdjust="spacingAndGlyphs" stroke="#222222" stroke-width="0.18">17</text>
<path d="M192.69 438.30V441.30" stroke="#1a1a1a" stroke-width="1"/>
<text x="192.69" y="450.40" font-size="7.9" text-anchor="middle" fill="#222222" font-weight="normal" textLength="8.50" lengthAdjust="spacingAndGlyphs" stroke="#222222" stroke-width="0.18">19</text>
<path d="M207.56 438.30V441.30" stroke="#1a1a1a" stroke-width="1"/>
<text x="207.56" y="450.40" font-size="7.9" text-anchor="middle" fill="#222222" font-weight="normal" textLength="8.50" lengthAdjust="spacingAndGlyphs" stroke="#222222" stroke-width="0.18">21</text>
<path d="M222.43 438.30V441.30" stroke="#1a1a1a" stroke-width="1"/>
<text x="222.43" y="450.40" font-size="7.9" text-anchor="middle" fill="#222222" font-weight="normal" textLength="8.50" lengthAdjust="spacingAndGlyphs" stroke="#222222" stroke-width="0.18">23</text>
<path d="M237.29 438.30V441.30" stroke="#1a1a1a" stroke-width="1"/>
<text x="236.49" y="450.40" font-size="7.9" text-anchor="middle" fill="#222222" font-weight="normal" textLength="8.50" lengthAdjust="spacingAndGlyphs" stroke="#222222" stroke-width="0.18">25</text>
<path d="M246.22 438.30V441.30" stroke="#1a1a1a" stroke-width="1"/>
<text x="247.12" y="450.40" font-size="7.9" text-anchor="middle" fill="#222222" font-weight="normal" textLength="8.50" lengthAdjust="spacingAndGlyphs" stroke="#222222" stroke-width="0.18">26</text>
<text x="148.00" y="463.90" font-size="9.6" text-anchor="middle" fill="#222222" font-weight="normal" textLength="21.90" lengthAdjust="spacingAndGlyphs" stroke="#222222" stroke-width="0.15">Weeks</text>
<text x="50.50" y="478.00" font-size="7.5" text-anchor="middle" fill="#3670a8" font-weight="normal" textLength="7.90" lengthAdjust="spacingAndGlyphs" stroke="#3670a8" stroke-width="0.18">20</text>
<text x="50.50" y="487.60" font-size="7.5" text-anchor="middle" fill="#cf2a48" font-weight="normal" textLength="7.90" lengthAdjust="spacingAndGlyphs" stroke="#cf2a48" stroke-width="0.18">18</text>
<text x="60.00" y="478.00" font-size="7.5" text-anchor="middle" fill="#3670a8" font-weight="normal" textLength="7.90" lengthAdjust="spacingAndGlyphs" stroke="#3670a8" stroke-width="0.18">19</text>
<text x="60.00" y="487.60" font-size="7.5" text-anchor="middle" fill="#cf2a48" font-weight="normal" textLength="7.90" lengthAdjust="spacingAndGlyphs" stroke="#cf2a48" stroke-width="0.18">15</text>
<text x="74.37" y="478.00" font-size="7.5" text-anchor="middle" fill="#3670a8" font-weight="normal" textLength="7.90" lengthAdjust="spacingAndGlyphs" stroke="#3670a8" stroke-width="0.18">17</text>
<text x="74.37" y="487.60" font-size="7.5" text-anchor="middle" fill="#cf2a48" font-weight="normal" textLength="7.90" lengthAdjust="spacingAndGlyphs" stroke="#cf2a48" stroke-width="0.18">16</text>
<text x="89.23" y="478.00" font-size="7.5" text-anchor="middle" fill="#3670a8" font-weight="normal" textLength="7.90" lengthAdjust="spacingAndGlyphs" stroke="#3670a8" stroke-width="0.18">18</text>
<text x="89.23" y="487.60" font-size="7.5" text-anchor="middle" fill="#cf2a48" font-weight="normal" textLength="7.90" lengthAdjust="spacingAndGlyphs" stroke="#cf2a48" stroke-width="0.18">15</text>
<text x="104.10" y="478.00" font-size="7.5" text-anchor="middle" fill="#3670a8" font-weight="normal" textLength="7.90" lengthAdjust="spacingAndGlyphs" stroke="#3670a8" stroke-width="0.18">16</text>
<text x="104.10" y="487.60" font-size="7.5" text-anchor="middle" fill="#cf2a48" font-weight="normal" textLength="7.90" lengthAdjust="spacingAndGlyphs" stroke="#cf2a48" stroke-width="0.18">17</text>
<text x="118.96" y="478.00" font-size="7.5" text-anchor="middle" fill="#3670a8" font-weight="normal" textLength="7.90" lengthAdjust="spacingAndGlyphs" stroke="#3670a8" stroke-width="0.18">16</text>
<text x="118.96" y="487.60" font-size="7.5" text-anchor="middle" fill="#cf2a48" font-weight="normal" textLength="7.90" lengthAdjust="spacingAndGlyphs" stroke="#cf2a48" stroke-width="0.18">16</text>
<text x="133.83" y="478.00" font-size="7.5" text-anchor="middle" fill="#3670a8" font-weight="normal" textLength="7.90" lengthAdjust="spacingAndGlyphs" stroke="#3670a8" stroke-width="0.18">14</text>
<text x="133.83" y="487.60" font-size="7.5" text-anchor="middle" fill="#cf2a48" font-weight="normal" textLength="7.90" lengthAdjust="spacingAndGlyphs" stroke="#cf2a48" stroke-width="0.18">16</text>
<text x="148.70" y="478.00" font-size="7.5" text-anchor="middle" fill="#3670a8" font-weight="normal" textLength="7.90" lengthAdjust="spacingAndGlyphs" stroke="#3670a8" stroke-width="0.18">16</text>
<text x="148.70" y="487.60" font-size="7.5" text-anchor="middle" fill="#cf2a48" font-weight="normal" textLength="7.90" lengthAdjust="spacingAndGlyphs" stroke="#cf2a48" stroke-width="0.18">16</text>
<text x="163.56" y="478.00" font-size="7.5" text-anchor="middle" fill="#3670a8" font-weight="normal" textLength="7.90" lengthAdjust="spacingAndGlyphs" stroke="#3670a8" stroke-width="0.18">16</text>
<text x="163.56" y="487.60" font-size="7.5" text-anchor="middle" fill="#cf2a48" font-weight="normal" textLength="7.90" lengthAdjust="spacingAndGlyphs" stroke="#cf2a48" stroke-width="0.18">16</text>
<text x="178.43" y="478.00" font-size="7.5" text-anchor="middle" fill="#3670a8" font-weight="normal" textLength="7.90" lengthAdjust="spacingAndGlyphs" stroke="#3670a8" stroke-width="0.18">15</text>
<text x="178.43" y="487.60" font-size="7.5" text-anchor="middle" fill="#cf2a48" font-weight="normal" textLength="7.90" lengthAdjust="spacingAndGlyphs" stroke="#cf2a48" stroke-width="0.18">15</text>
<text x="193.29" y="478.00" font-size="7.5" text-anchor="middle" fill="#3670a8" font-weight="normal" textLength="7.90" lengthAdjust="spacingAndGlyphs" stroke="#3670a8" stroke-width="0.18">17</text>
<text x="193.29" y="487.60" font-size="7.5" text-anchor="middle" fill="#cf2a48" font-weight="normal" textLength="7.90" lengthAdjust="spacingAndGlyphs" stroke="#cf2a48" stroke-width="0.18">16</text>
<text x="208.16" y="478.00" font-size="7.5" text-anchor="middle" fill="#3670a8" font-weight="normal" textLength="7.90" lengthAdjust="spacingAndGlyphs" stroke="#3670a8" stroke-width="0.18">17</text>
<text x="208.16" y="487.60" font-size="7.5" text-anchor="middle" fill="#cf2a48" font-weight="normal" textLength="7.90" lengthAdjust="spacingAndGlyphs" stroke="#cf2a48" stroke-width="0.18">17</text>
<text x="223.03" y="478.00" font-size="7.5" text-anchor="middle" fill="#3670a8" font-weight="normal" textLength="7.90" lengthAdjust="spacingAndGlyphs" stroke="#3670a8" stroke-width="0.18">15</text>
<text x="223.03" y="487.60" font-size="7.5" text-anchor="middle" fill="#cf2a48" font-weight="normal" textLength="7.90" lengthAdjust="spacingAndGlyphs" stroke="#cf2a48" stroke-width="0.18">15</text>
<text x="236.99" y="478.00" font-size="7.5" text-anchor="middle" fill="#3670a8" font-weight="normal" textLength="7.90" lengthAdjust="spacingAndGlyphs" stroke="#3670a8" stroke-width="0.18">17</text>
<text x="236.99" y="487.60" font-size="7.5" text-anchor="middle" fill="#cf2a48" font-weight="normal" textLength="7.90" lengthAdjust="spacingAndGlyphs" stroke="#cf2a48" stroke-width="0.18">17</text>
<text x="246.82" y="478.00" font-size="7.5" text-anchor="middle" fill="#3670a8" font-weight="normal" textLength="7.90" lengthAdjust="spacingAndGlyphs" stroke="#3670a8" stroke-width="0.18">16</text>
<text x="246.82" y="487.60" font-size="7.5" text-anchor="middle" fill="#cf2a48" font-weight="normal" textLength="7.90" lengthAdjust="spacingAndGlyphs" stroke="#cf2a48" stroke-width="0.18">18</text>
<text x="0" y="0" font-size="10.9" fill="#222222" text-anchor="middle" textLength="106.90" lengthAdjust="spacingAndGlyphs" transform="translate(15.00 358.05) rotate(-90)">Mean (SE) reticulocytes (×10⁹/L)</text>
<path d="M49.15 286.60H60.15" stroke="#c8102e" stroke-width="1.6"/>
<path d="M52.15 288.55L54.75 284.13L57.35 288.55Z" fill="#c8102e"/>
<text x="63.65" y="288.90" font-size="7.9" text-anchor="start" fill="#222222" font-weight="normal" textLength="25.90" lengthAdjust="spacingAndGlyphs" stroke="#222222" stroke-width="0.1">Placebo</text>
<path d="M97.15 286.60H107.85" stroke="#104a86" stroke-width="1.6"/>
<circle cx="102.45" cy="286.60" r="1.8" fill="#104a86"/>
<text x="111.15" y="288.90" font-size="7.9" text-anchor="start" fill="#222222" font-weight="normal" textLength="36.70" lengthAdjust="spacingAndGlyphs" stroke="#222222" stroke-width="0.1">Sutimlimab</text>
<path d="M50.50 309.40V335.20M49.40 309.40H51.60M49.40 335.20H51.60" stroke="#3a6ea5" stroke-width="1.15" fill="none"/>
<path d="M50.50 325.50V345.20M49.40 325.50H51.60M49.40 345.20H51.60" stroke="#cf3a5c" stroke-width="1.15" fill="none"/>
<path d="M58.50 294.20V327.00M57.40 294.20H59.60M57.40 327.00H59.60" stroke="#3a6ea5" stroke-width="1.15" fill="none"/>
<path d="M58.50 346.00V368.50M57.40 346.00H59.60M57.40 368.50H59.60" stroke="#cf3a5c" stroke-width="1.15" fill="none"/>
<path d="M73.50 376.40V401.20M72.40 376.40H74.60M72.40 401.20H74.60" stroke="#3a6ea5" stroke-width="1.15" fill="none"/>
<path d="M73.50 318.50V347.30M72.40 318.50H74.60M72.40 347.30H74.60" stroke="#cf3a5c" stroke-width="1.15" fill="none"/>
<path d="M88.50 398.20V411.80M87.40 398.20H89.60M87.40 411.80H89.60" stroke="#3a6ea5" stroke-width="1.15" fill="none"/>
<path d="M88.50 324.00V345.20M87.40 324.00H89.60M87.40 345.20H89.60" stroke="#cf3a5c" stroke-width="1.15" fill="none"/>
<path d="M103.50 390.00V410.90M102.40 390.00H104.60M102.40 410.90H104.60" stroke="#3a6ea5" stroke-width="1.15" fill="none"/>
<path d="M103.50 330.00V352.10M102.40 330.00H104.60M102.40 352.10H104.60" stroke="#cf3a5c" stroke-width="1.15" fill="none"/>
<path d="M118.50 384.50V413.30M117.40 384.50H119.60M117.40 413.30H119.60" stroke="#3a6ea5" stroke-width="1.15" fill="none"/>
<path d="M118.50 341.20V362.40M117.40 341.20H119.60M117.40 362.40H119.60" stroke="#cf3a5c" stroke-width="1.15" fill="none"/>
<path d="M133.50 387.60V412.40M132.40 387.60H134.60M132.40 412.40H134.60" stroke="#3a6ea5" stroke-width="1.15" fill="none"/>
<path d="M133.50 325.50V345.20M132.40 325.50H134.60M132.40 345.20H134.60" stroke="#cf3a5c" stroke-width="1.15" fill="none"/>
<path d="M148.50 388.50V405.90M147.40 388.50H149.60M147.40 405.90H149.60" stroke="#3a6ea5" stroke-width="1.15" fill="none"/>
<path d="M148.50 326.20V352.10M147.40 326.20H149.60M147.40 352.10H149.60" stroke="#cf3a5c" stroke-width="1.15" fill="none"/>
<path d="M162.50 389.70V403.80M161.40 389.70H163.60M161.40 403.80H163.60" stroke="#3a6ea5" stroke-width="1.15" fill="none"/>
<path d="M162.50 335.60V355.30M161.40 335.60H163.60M161.40 355.30H163.60" stroke="#cf3a5c" stroke-width="1.15" fill="none"/>
<path d="M177.50 389.20V407.90M176.40 389.20H178.60M176.40 407.90H178.60" stroke="#3a6ea5" stroke-width="1.15" fill="none"/>
<path d="M177.50 343.60V370.80M176.40 343.60H178.60M176.40 370.80H178.60" stroke="#cf3a5c" stroke-width="1.15" fill="none"/>
<path d="M192.50 382.40V397.00M191.40 382.40H193.60M191.40 397.00H193.60" stroke="#3a6ea5" stroke-width="1.15" fill="none"/>
<path d="M192.50 348.00V370.30M191.40 348.00H193.60M191.40 370.30H193.60" stroke="#cf3a5c" stroke-width="1.15" fill="none"/>
<path d="M207.50 383.60V400.60M206.40 383.60H208.60M206.40 400.60H208.60" stroke="#3a6ea5" stroke-width="1.15" fill="none"/>
<path d="M207.50 331.50V358.20M206.40 331.50H208.60M206.40 358.20H208.60" stroke="#cf3a5c" stroke-width="1.15" fill="none"/>
<path d="M222.50 392.10V407.90M221.40 392.10H223.60M221.40 407.90H223.60" stroke="#3a6ea5" stroke-width="1.15" fill="none"/>
<path d="M222.50 322.50V352.80M221.40 322.50H223.60M221.40 352.80H223.60" stroke="#cf3a5c" stroke-width="1.15" fill="none"/>
<path d="M237.50 386.80V403.50M236.40 386.80H238.60M236.40 403.50H238.60" stroke="#3a6ea5" stroke-width="1.15" fill="none"/>
<path d="M237.50 331.00V353.30M236.40 331.00H238.60M236.40 353.30H238.60" stroke="#cf3a5c" stroke-width="1.15" fill="none"/>
<path d="M246.50 398.20V412.00M245.40 398.20H247.60M245.40 412.00H247.60" stroke="#3a6ea5" stroke-width="1.15" fill="none"/>
<path d="M246.50 340.50V360.10M245.40 340.50H247.60M245.40 360.10H247.60" stroke="#cf3a5c" stroke-width="1.15" fill="none"/>
<path d="M50.20 334.50 L58.90 357.90 L73.77 332.10 L88.63 333.90 L103.50 340.60 L118.36 351.80 L133.23 335.20 L148.10 339.30 L162.96 345.30 L177.83 356.50 L192.69 358.70 L207.56 345.30 L222.43 338.10 L237.29 341.20 L246.22 350.40" fill="none" stroke="#c8102e" stroke-width="1.6" stroke-linejoin="round"/>
<path d="M50.20 322.40 L58.90 310.90 L73.77 389.70 L88.63 405.80 L103.50 400.60 L118.36 399.10 L133.23 400.30 L148.10 397.70 L162.96 397.70 L177.83 398.90 L192.69 389.70 L207.56 392.10 L222.43 400.10 L237.29 395.30 L246.22 405.90" fill="none" stroke="#104a86" stroke-width="1.6" stroke-linejoin="round"/>
<circle cx="50.20" cy="322.40" r="2.3" fill="#104a86"/>
<circle cx="58.90" cy="310.90" r="2.3" fill="#104a86"/>
<circle cx="73.77" cy="389.70" r="2.3" fill="#104a86"/>
<circle cx="88.63" cy="405.80" r="2.3" fill="#104a86"/>
<circle cx="103.50" cy="400.60" r="2.3" fill="#104a86"/>
<circle cx="118.36" cy="399.10" r="2.3" fill="#104a86"/>
<circle cx="133.23" cy="400.30" r="2.3" fill="#104a86"/>
<circle cx="148.10" cy="397.70" r="2.3" fill="#104a86"/>
<circle cx="162.96" cy="397.70" r="2.3" fill="#104a86"/>
<circle cx="177.83" cy="398.90" r="2.3" fill="#104a86"/>
<circle cx="192.69" cy="389.70" r="2.3" fill="#104a86"/>
<circle cx="207.56" cy="392.10" r="2.3" fill="#104a86"/>
<circle cx="222.43" cy="400.10" r="2.3" fill="#104a86"/>
<circle cx="237.29" cy="395.30" r="2.3" fill="#104a86"/>
<circle cx="246.22" cy="405.90" r="2.3" fill="#104a86"/>
<path d="M47.60 336.45L50.20 332.03L52.80 336.45Z" fill="#c8102e"/>
<path d="M56.30 359.85L58.90 355.43L61.50 359.85Z" fill="#c8102e"/>
<path d="M71.17 334.05L73.77 329.63L76.37 334.05Z" fill="#c8102e"/>
<path d="M86.03 335.85L88.63 331.43L91.23 335.85Z" fill="#c8102e"/>
<path d="M100.90 342.55L103.50 338.13L106.10 342.55Z" fill="#c8102e"/>
<path d="M115.76 353.75L118.36 349.33L120.96 353.75Z" fill="#c8102e"/>
<path d="M130.63 337.15L133.23 332.73L135.83 337.15Z" fill="#c8102e"/>
<path d="M145.50 341.25L148.10 336.83L150.70 341.25Z" fill="#c8102e"/>
<path d="M160.36 347.25L162.96 342.83L165.56 347.25Z" fill="#c8102e"/>
<path d="M175.23 358.45L177.83 354.03L180.43 358.45Z" fill="#c8102e"/>
<path d="M190.09 360.65L192.69 356.23L195.29 360.65Z" fill="#c8102e"/>
<path d="M204.96 347.25L207.56 342.83L210.16 347.25Z" fill="#c8102e"/>
<path d="M219.83 340.05L222.43 335.63L225.03 340.05Z" fill="#c8102e"/>
<path d="M234.69 343.15L237.29 338.73L239.89 343.15Z" fill="#c8102e"/>
<path d="M243.62 352.35L246.22 347.93L248.82 352.35Z" fill="#c8102e"/>
<text x="264.80" y="268.55" font-size="12" text-anchor="start" fill="#000" font-weight="bold" textLength="8.60" lengthAdjust="spacingAndGlyphs">D</text>
<text x="407.20" y="268.30" font-size="9.8" text-anchor="middle" fill="#222222" font-weight="normal" textLength="122.50" lengthAdjust="spacingAndGlyphs">Lactate dehydrogenase (U/L)</text>
<path d="M297.45 279.20V438.30H512.60" fill="none" stroke="#1a1a1a" stroke-width="1.35"/>
<path d="M293.95 432.00H297.45" stroke="#1a1a1a" stroke-width="1"/>
<text x="290.95" y="434.90" font-size="8.3" text-anchor="end" fill="#222222" font-weight="normal" textLength="12.00" lengthAdjust="spacingAndGlyphs" stroke="#222222" stroke-width="0.15">200</text>
<path d="M293.95 395.50H297.45" stroke="#1a1a1a" stroke-width="1"/>
<text x="290.95" y="398.40" font-size="8.3" text-anchor="end" fill="#222222" font-weight="normal" textLength="12.00" lengthAdjust="spacingAndGlyphs" stroke="#222222" stroke-width="0.15">300</text>
<path d="M293.95 359.00H297.45" stroke="#1a1a1a" stroke-width="1"/>
<text x="290.95" y="361.90" font-size="8.3" text-anchor="end" fill="#222222" font-weight="normal" textLength="12.00" lengthAdjust="spacingAndGlyphs" stroke="#222222" stroke-width="0.15">400</text>
<path d="M293.95 322.50H297.45" stroke="#1a1a1a" stroke-width="1"/>
<text x="290.95" y="325.40" font-size="8.3" text-anchor="end" fill="#222222" font-weight="normal" textLength="12.00" lengthAdjust="spacingAndGlyphs" stroke="#222222" stroke-width="0.15">500</text>
<path d="M293.95 286.00H297.45" stroke="#1a1a1a" stroke-width="1"/>
<text x="290.95" y="288.90" font-size="8.3" text-anchor="end" fill="#222222" font-weight="normal" textLength="12.00" lengthAdjust="spacingAndGlyphs" stroke="#222222" stroke-width="0.15">600</text>
<path d="M309.00 438.30V441.30" stroke="#1a1a1a" stroke-width="1"/>
<text x="309.00" y="450.40" font-size="7.9" text-anchor="middle" fill="#222222" font-weight="normal" stroke="#222222" stroke-width="0.18">B</text>
<path d="M317.70 438.30V441.30" stroke="#1a1a1a" stroke-width="1"/>
<text x="317.70" y="450.40" font-size="7.9" text-anchor="middle" fill="#222222" font-weight="normal" stroke="#222222" stroke-width="0.18">1</text>
<path d="M332.57 438.30V441.30" stroke="#1a1a1a" stroke-width="1"/>
<text x="332.57" y="450.40" font-size="7.9" text-anchor="middle" fill="#222222" font-weight="normal" stroke="#222222" stroke-width="0.18">3</text>
<path d="M347.43 438.30V441.30" stroke="#1a1a1a" stroke-width="1"/>
<text x="347.43" y="450.40" font-size="7.9" text-anchor="middle" fill="#222222" font-weight="normal" stroke="#222222" stroke-width="0.18">5</text>
<path d="M362.30 438.30V441.30" stroke="#1a1a1a" stroke-width="1"/>
<text x="362.30" y="450.40" font-size="7.9" text-anchor="middle" fill="#222222" font-weight="normal" stroke="#222222" stroke-width="0.18">7</text>
<path d="M377.16 438.30V441.30" stroke="#1a1a1a" stroke-width="1"/>
<text x="377.16" y="450.40" font-size="7.9" text-anchor="middle" fill="#222222" font-weight="normal" stroke="#222222" stroke-width="0.18">9</text>
<path d="M392.03 438.30V441.30" stroke="#1a1a1a" stroke-width="1"/>
<text x="392.03" y="450.40" font-size="7.9" text-anchor="middle" fill="#222222" font-weight="normal" textLength="8.50" lengthAdjust="spacingAndGlyphs" stroke="#222222" stroke-width="0.18">11</text>
<path d="M406.90 438.30V441.30" stroke="#1a1a1a" stroke-width="1"/>
<text x="406.90" y="450.40" font-size="7.9" text-anchor="middle" fill="#222222" font-weight="normal" textLength="8.50" lengthAdjust="spacingAndGlyphs" stroke="#222222" stroke-width="0.18">13</text>
<path d="M421.76 438.30V441.30" stroke="#1a1a1a" stroke-width="1"/>
<text x="421.76" y="450.40" font-size="7.9" text-anchor="middle" fill="#222222" font-weight="normal" textLength="8.50" lengthAdjust="spacingAndGlyphs" stroke="#222222" stroke-width="0.18">15</text>
<path d="M436.63 438.30V441.30" stroke="#1a1a1a" stroke-width="1"/>
<text x="436.63" y="450.40" font-size="7.9" text-anchor="middle" fill="#222222" font-weight="normal" textLength="8.50" lengthAdjust="spacingAndGlyphs" stroke="#222222" stroke-width="0.18">17</text>
<path d="M451.49 438.30V441.30" stroke="#1a1a1a" stroke-width="1"/>
<text x="451.49" y="450.40" font-size="7.9" text-anchor="middle" fill="#222222" font-weight="normal" textLength="8.50" lengthAdjust="spacingAndGlyphs" stroke="#222222" stroke-width="0.18">19</text>
<path d="M466.36 438.30V441.30" stroke="#1a1a1a" stroke-width="1"/>
<text x="466.36" y="450.40" font-size="7.9" text-anchor="middle" fill="#222222" font-weight="normal" textLength="8.50" lengthAdjust="spacingAndGlyphs" stroke="#222222" stroke-width="0.18">21</text>
<path d="M481.23 438.30V441.30" stroke="#1a1a1a" stroke-width="1"/>
<text x="481.23" y="450.40" font-size="7.9" text-anchor="middle" fill="#222222" font-weight="normal" textLength="8.50" lengthAdjust="spacingAndGlyphs" stroke="#222222" stroke-width="0.18">23</text>
<path d="M496.09 438.30V441.30" stroke="#1a1a1a" stroke-width="1"/>
<text x="495.29" y="450.40" font-size="7.9" text-anchor="middle" fill="#222222" font-weight="normal" textLength="8.50" lengthAdjust="spacingAndGlyphs" stroke="#222222" stroke-width="0.18">25</text>
<path d="M505.02 438.30V441.30" stroke="#1a1a1a" stroke-width="1"/>
<text x="505.92" y="450.40" font-size="7.9" text-anchor="middle" fill="#222222" font-weight="normal" textLength="8.50" lengthAdjust="spacingAndGlyphs" stroke="#222222" stroke-width="0.18">26</text>
<text x="406.80" y="463.90" font-size="9.6" text-anchor="middle" fill="#222222" font-weight="normal" textLength="21.90" lengthAdjust="spacingAndGlyphs" stroke="#222222" stroke-width="0.15">Weeks</text>
<text x="309.30" y="478.00" font-size="7.5" text-anchor="middle" fill="#3670a8" font-weight="normal" textLength="7.90" lengthAdjust="spacingAndGlyphs" stroke="#3670a8" stroke-width="0.18">22</text>
<text x="309.30" y="487.60" font-size="7.5" text-anchor="middle" fill="#cf2a48" font-weight="normal" textLength="7.90" lengthAdjust="spacingAndGlyphs" stroke="#cf2a48" stroke-width="0.18">20</text>
<text x="318.80" y="478.00" font-size="7.5" text-anchor="middle" fill="#3670a8" font-weight="normal" textLength="7.90" lengthAdjust="spacingAndGlyphs" stroke="#3670a8" stroke-width="0.18">22</text>
<text x="318.80" y="487.60" font-size="7.5" text-anchor="middle" fill="#cf2a48" font-weight="normal" textLength="7.90" lengthAdjust="spacingAndGlyphs" stroke="#cf2a48" stroke-width="0.18">20</text>
<text x="333.17" y="478.00" font-size="7.5" text-anchor="middle" fill="#3670a8" font-weight="normal" textLength="7.90" lengthAdjust="spacingAndGlyphs" stroke="#3670a8" stroke-width="0.18">22</text>
<text x="333.17" y="487.60" font-size="7.5" text-anchor="middle" fill="#cf2a48" font-weight="normal" textLength="7.90" lengthAdjust="spacingAndGlyphs" stroke="#cf2a48" stroke-width="0.18">19</text>
<text x="348.03" y="478.00" font-size="7.5" text-anchor="middle" fill="#3670a8" font-weight="normal" textLength="7.90" lengthAdjust="spacingAndGlyphs" stroke="#3670a8" stroke-width="0.18">20</text>
<text x="348.03" y="487.60" font-size="7.5" text-anchor="middle" fill="#cf2a48" font-weight="normal" textLength="7.90" lengthAdjust="spacingAndGlyphs" stroke="#cf2a48" stroke-width="0.18">17</text>
<text x="362.90" y="478.00" font-size="7.5" text-anchor="middle" fill="#3670a8" font-weight="normal" textLength="7.90" lengthAdjust="spacingAndGlyphs" stroke="#3670a8" stroke-width="0.18">18</text>
<text x="362.90" y="487.60" font-size="7.5" text-anchor="middle" fill="#cf2a48" font-weight="normal" textLength="7.90" lengthAdjust="spacingAndGlyphs" stroke="#cf2a48" stroke-width="0.18">19</text>
<text x="377.76" y="478.00" font-size="7.5" text-anchor="middle" fill="#3670a8" font-weight="normal" textLength="7.90" lengthAdjust="spacingAndGlyphs" stroke="#3670a8" stroke-width="0.18">20</text>
<text x="377.76" y="487.60" font-size="7.5" text-anchor="middle" fill="#cf2a48" font-weight="normal" textLength="7.90" lengthAdjust="spacingAndGlyphs" stroke="#cf2a48" stroke-width="0.18">19</text>
<text x="392.63" y="478.00" font-size="7.5" text-anchor="middle" fill="#3670a8" font-weight="normal" textLength="7.90" lengthAdjust="spacingAndGlyphs" stroke="#3670a8" stroke-width="0.18">18</text>
<text x="392.63" y="487.60" font-size="7.5" text-anchor="middle" fill="#cf2a48" font-weight="normal" textLength="7.90" lengthAdjust="spacingAndGlyphs" stroke="#cf2a48" stroke-width="0.18">19</text>
<text x="407.50" y="478.00" font-size="7.5" text-anchor="middle" fill="#3670a8" font-weight="normal" textLength="7.90" lengthAdjust="spacingAndGlyphs" stroke="#3670a8" stroke-width="0.18">19</text>
<text x="407.50" y="487.60" font-size="7.5" text-anchor="middle" fill="#cf2a48" font-weight="normal" textLength="7.90" lengthAdjust="spacingAndGlyphs" stroke="#cf2a48" stroke-width="0.18">19</text>
<text x="422.36" y="478.00" font-size="7.5" text-anchor="middle" fill="#3670a8" font-weight="normal" textLength="7.90" lengthAdjust="spacingAndGlyphs" stroke="#3670a8" stroke-width="0.18">18</text>
<text x="422.36" y="487.60" font-size="7.5" text-anchor="middle" fill="#cf2a48" font-weight="normal" textLength="7.90" lengthAdjust="spacingAndGlyphs" stroke="#cf2a48" stroke-width="0.18">19</text>
<text x="437.23" y="478.00" font-size="7.5" text-anchor="middle" fill="#3670a8" font-weight="normal" textLength="7.90" lengthAdjust="spacingAndGlyphs" stroke="#3670a8" stroke-width="0.18">19</text>
<text x="437.23" y="487.60" font-size="7.5" text-anchor="middle" fill="#cf2a48" font-weight="normal" textLength="7.90" lengthAdjust="spacingAndGlyphs" stroke="#cf2a48" stroke-width="0.18">17</text>
<text x="452.09" y="478.00" font-size="7.5" text-anchor="middle" fill="#3670a8" font-weight="normal" textLength="7.90" lengthAdjust="spacingAndGlyphs" stroke="#3670a8" stroke-width="0.18">16</text>
<text x="452.09" y="487.60" font-size="7.5" text-anchor="middle" fill="#cf2a48" font-weight="normal" textLength="7.90" lengthAdjust="spacingAndGlyphs" stroke="#cf2a48" stroke-width="0.18">17</text>
<text x="466.96" y="478.00" font-size="7.5" text-anchor="middle" fill="#3670a8" font-weight="normal" textLength="7.90" lengthAdjust="spacingAndGlyphs" stroke="#3670a8" stroke-width="0.18">18</text>
<text x="466.96" y="487.60" font-size="7.5" text-anchor="middle" fill="#cf2a48" font-weight="normal" textLength="7.90" lengthAdjust="spacingAndGlyphs" stroke="#cf2a48" stroke-width="0.18">19</text>
<text x="481.83" y="478.00" font-size="7.5" text-anchor="middle" fill="#3670a8" font-weight="normal" textLength="7.90" lengthAdjust="spacingAndGlyphs" stroke="#3670a8" stroke-width="0.18">17</text>
<text x="481.83" y="487.60" font-size="7.5" text-anchor="middle" fill="#cf2a48" font-weight="normal" textLength="7.90" lengthAdjust="spacingAndGlyphs" stroke="#cf2a48" stroke-width="0.18">19</text>
<text x="495.79" y="478.00" font-size="7.5" text-anchor="middle" fill="#3670a8" font-weight="normal" textLength="7.90" lengthAdjust="spacingAndGlyphs" stroke="#3670a8" stroke-width="0.18">19</text>
<text x="495.79" y="487.60" font-size="7.5" text-anchor="middle" fill="#cf2a48" font-weight="normal" textLength="7.90" lengthAdjust="spacingAndGlyphs" stroke="#cf2a48" stroke-width="0.18">19</text>
<text x="505.62" y="478.00" font-size="7.5" text-anchor="middle" fill="#3670a8" font-weight="normal" textLength="7.90" lengthAdjust="spacingAndGlyphs" stroke="#3670a8" stroke-width="0.18">17</text>
<text x="505.62" y="487.60" font-size="7.5" text-anchor="middle" fill="#cf2a48" font-weight="normal" textLength="7.90" lengthAdjust="spacingAndGlyphs" stroke="#cf2a48" stroke-width="0.18">18</text>
<text x="0" y="0" font-size="10.9" fill="#222222" text-anchor="middle" textLength="67.20" lengthAdjust="spacingAndGlyphs" transform="translate(272.10 358.10) rotate(-90)">Mean (SE) LDH (U/L)</text>
<path d="M307.95 286.60H318.95" stroke="#c8102e" stroke-width="1.6"/>
<path d="M310.95 288.55L313.55 284.13L316.15 288.55Z" fill="#c8102e"/>
<text x="322.45" y="288.90" font-size="7.9" text-anchor="start" fill="#222222" font-weight="normal" textLength="25.90" lengthAdjust="spacingAndGlyphs" stroke="#222222" stroke-width="0.1">Placebo</text>
<path d="M355.95 286.60H366.65" stroke="#104a86" stroke-width="1.6"/>
<circle cx="361.25" cy="286.60" r="1.8" fill="#104a86"/>
<text x="369.95" y="288.90" font-size="7.9" text-anchor="start" fill="#222222" font-weight="normal" textLength="36.70" lengthAdjust="spacingAndGlyphs" stroke="#222222" stroke-width="0.1">Sutimlimab</text>
<path d="M309.50 345.50V385.00M308.40 345.50H310.60M308.40 385.00H310.60" stroke="#d24a6a" stroke-width="1.15" fill="none"/>
<path d="M309.50 335.20V365.20M308.40 335.20H310.60M308.40 365.20H310.60" stroke="#4a7cb0" stroke-width="1.15" fill="none"/>
<path d="M317.50 350.40V383.40M316.40 350.40H318.60M316.40 383.40H318.60" stroke="#4a7cb0" stroke-width="1.15" fill="none"/>
<path d="M317.50 337.30V380.10M316.40 337.30H318.60M316.40 380.10H318.60" stroke="#d24a6a" stroke-width="1.15" fill="none"/>
<path d="M332.50 343.30V381.50M331.40 343.30H333.60M331.40 381.50H333.60" stroke="#4a7cb0" stroke-width="1.15" fill="none"/>
<path d="M332.50 332.70V381.50M331.40 332.70H333.60M331.40 381.50H333.60" stroke="#d24a6a" stroke-width="1.15" fill="none"/>
<path d="M347.50 329.40V380.00M346.40 329.40H348.60M346.40 380.00H348.60" stroke="#d24a6a" stroke-width="1.15" fill="none"/>
<path d="M347.50 336.70V385.30M346.40 336.70H348.60M346.40 385.30H348.60" stroke="#4a7cb0" stroke-width="1.15" fill="none"/>
<path d="M362.50 335.40V389.00M361.40 335.40H363.60M361.40 389.00H363.60" stroke="#d24a6a" stroke-width="1.15" fill="none"/>
<path d="M362.50 322.30V381.40M361.40 322.30H363.60M361.40 381.40H363.60" stroke="#4a7cb0" stroke-width="1.15" fill="none"/>
<path d="M377.50 361.20V400.50M376.40 361.20H378.60M376.40 400.50H378.60" stroke="#4a7cb0" stroke-width="1.15" fill="none"/>
<path d="M377.50 323.10V377.70M376.40 323.10H378.60M376.40 377.70H378.60" stroke="#d24a6a" stroke-width="1.15" fill="none"/>
<path d="M392.50 376.20V407.60M391.40 376.20H393.60M391.40 407.60H393.60" stroke="#4a7cb0" stroke-width="1.15" fill="none"/>
<path d="M392.50 322.30V382.70M391.40 322.30H393.60M391.40 382.70H393.60" stroke="#d24a6a" stroke-width="1.15" fill="none"/>
<path d="M406.50 383.80V416.80M405.40 383.80H407.60M405.40 416.80H407.60" stroke="#4a7cb0" stroke-width="1.15" fill="none"/>
<path d="M406.50 321.50V383.50M405.40 321.50H407.60M405.40 383.50H407.60" stroke="#d24a6a" stroke-width="1.15" fill="none"/>
<path d="M421.50 392.50V418.50M420.40 392.50H422.60M420.40 418.50H422.60" stroke="#4a7cb0" stroke-width="1.15" fill="none"/>
<path d="M421.50 334.10V391.90M420.40 334.10H422.60M420.40 391.90H422.60" stroke="#d24a6a" stroke-width="1.15" fill="none"/>
<path d="M436.50 388.50V413.60M435.40 388.50H437.60M435.40 413.60H437.60" stroke="#4a7cb0" stroke-width="1.15" fill="none"/>
<path d="M436.50 308.40V378.00M435.40 308.40H437.60M435.40 378.00H437.60" stroke="#d24a6a" stroke-width="1.15" fill="none"/>
<path d="M451.50 397.60V418.10M450.40 397.60H452.60M450.40 418.10H452.60" stroke="#4a7cb0" stroke-width="1.15" fill="none"/>
<path d="M451.50 313.60V381.90M450.40 313.60H452.60M450.40 381.90H452.60" stroke="#d24a6a" stroke-width="1.15" fill="none"/>
<path d="M466.50 385.30V421.30M465.40 385.30H467.60M465.40 421.30H467.60" stroke="#4a7cb0" stroke-width="1.15" fill="none"/>
<path d="M466.50 316.30V385.80M465.40 316.30H467.60M465.40 385.80H467.60" stroke="#d24a6a" stroke-width="1.15" fill="none"/>
<path d="M481.50 402.40V422.00M480.40 402.40H482.60M480.40 422.00H482.60" stroke="#4a7cb0" stroke-width="1.15" fill="none"/>
<path d="M481.50 334.10V397.60M480.40 334.10H482.60M480.40 397.60H482.60" stroke="#d24a6a" stroke-width="1.15" fill="none"/>
<path d="M496.50 384.80V416.80M495.40 384.80H497.60M495.40 416.80H497.60" stroke="#4a7cb0" stroke-width="1.15" fill="none"/>
<path d="M496.50 327.00V392.40M495.40 327.00H497.60M495.40 392.40H497.60" stroke="#d24a6a" stroke-width="1.15" fill="none"/>
<path d="M505.50 383.50V415.50M504.40 383.50H506.60M504.40 415.50H506.60" stroke="#4a7cb0" stroke-width="1.15" fill="none"/>
<path d="M505.50 317.00V385.30M504.40 317.00H506.60M504.40 385.30H506.60" stroke="#d24a6a" stroke-width="1.15" fill="none"/>
<path d="M309.00 365.00 L317.70 358.50 L332.57 357.50 L347.43 354.60 L362.30 362.20 L377.16 350.40 L392.03 352.50 L406.90 352.50 L421.76 362.50 L436.63 343.30 L451.49 347.20 L466.36 350.40 L481.23 365.60 L496.09 359.10 L505.02 350.70" fill="none" stroke="#c8102e" stroke-width="1.6" stroke-linejoin="round"/>
<path d="M309.00 350.20 L317.70 367.00 L332.57 362.40 L347.43 360.40 L362.30 351.20 L377.16 380.80 L392.03 391.90 L406.90 400.30 L421.76 405.50 L436.63 400.50 L451.49 407.60 L466.36 403.10 L481.23 412.30 L496.09 400.50 L505.02 399.20" fill="none" stroke="#104a86" stroke-width="1.6" stroke-linejoin="round"/>
<circle cx="309.00" cy="350.20" r="2.3" fill="#104a86"/>
<circle cx="317.70" cy="367.00" r="2.3" fill="#104a86"/>
<circle cx="332.57" cy="362.40" r="2.3" fill="#104a86"/>
<circle cx="347.43" cy="360.40" r="2.3" fill="#104a86"/>
<circle cx="362.30" cy="351.20" r="2.3" fill="#104a86"/>
<circle cx="377.16" cy="380.80" r="2.3" fill="#104a86"/>
<circle cx="392.03" cy="391.90" r="2.3" fill="#104a86"/>
<circle cx="406.90" cy="400.30" r="2.3" fill="#104a86"/>
<circle cx="421.76" cy="405.50" r="2.3" fill="#104a86"/>
<circle cx="436.63" cy="400.50" r="2.3" fill="#104a86"/>
<circle cx="451.49" cy="407.60" r="2.3" fill="#104a86"/>
<circle cx="466.36" cy="403.10" r="2.3" fill="#104a86"/>
<circle cx="481.23" cy="412.30" r="2.3" fill="#104a86"/>
<circle cx="496.09" cy="400.50" r="2.3" fill="#104a86"/>
<circle cx="505.02" cy="399.20" r="2.3" fill="#104a86"/>
<path d="M306.40 366.95L309.00 362.53L311.60 366.95Z" fill="#c8102e"/>
<path d="M315.10 360.45L317.70 356.03L320.30 360.45Z" fill="#c8102e"/>
<path d="M329.97 359.45L332.57 355.03L335.17 359.45Z" fill="#c8102e"/>
<path d="M344.83 356.55L347.43 352.13L350.03 356.55Z" fill="#c8102e"/>
<path d="M359.70 364.15L362.30 359.73L364.90 364.15Z" fill="#c8102e"/>
<path d="M374.56 352.35L377.16 347.93L379.76 352.35Z" fill="#c8102e"/>
<path d="M389.43 354.45L392.03 350.03L394.63 354.45Z" fill="#c8102e"/>
<path d="M404.30 354.45L406.90 350.03L409.50 354.45Z" fill="#c8102e"/>
<path d="M419.16 364.45L421.76 360.03L424.36 364.45Z" fill="#c8102e"/>
<path d="M434.03 345.25L436.63 340.83L439.23 345.25Z" fill="#c8102e"/>
<path d="M448.89 349.15L451.49 344.73L454.09 349.15Z" fill="#c8102e"/>
<path d="M463.76 352.35L466.36 347.93L468.96 352.35Z" fill="#c8102e"/>
<path d="M478.63 367.55L481.23 363.13L483.83 367.55Z" fill="#c8102e"/>
<path d="M493.49 361.05L496.09 356.63L498.69 361.05Z" fill="#c8102e"/>
<path d="M502.42 352.65L505.02 348.23L507.62 352.65Z" fill="#c8102e"/>
</svg>
</body></html>
